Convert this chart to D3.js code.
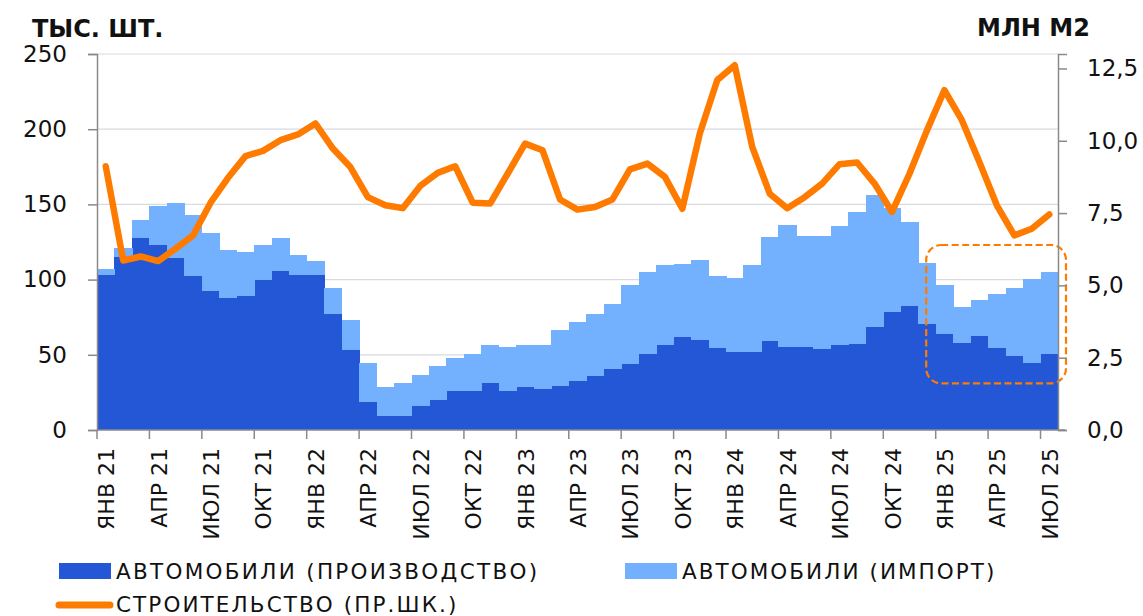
<!DOCTYPE html>
<html>
<head>
<meta charset="utf-8">
<script src="https://cdn.jsdelivr.net/npm/d3@7"></script>
<style>
  html, body { margin: 0; padding: 0; background: #fff; }
  svg { display: block; }
  text { font-family: "DejaVu Sans", sans-serif; fill: #111; }
</style>
</head>
<body>
<svg id="chart" width="1143" height="616"></svg>
<script>
// ---- data ----
const monthNames = ["ЯНВ","ФЕВ","МАР","АПР","МАЙ","ИЮН","ИЮЛ","АВГ","СЕН","ОКТ","НОЯ","ДЕК"];
const years = [21, 22, 23, 24, 25];
const months = [];
years.forEach(y => monthNames.forEach(m => { if (months.length < 55) months.push(m + " " + y); }));

// Cars, production (thousand units)
const production = [103,114.8,127.4,122.8,114.6,102.6,92.6,87.5,89.3,99.5,105.9,102.8,
  103.3,77.1,53.4,18.8,9.5,9.1,16.2,19.7,26.1,25.7,31,25.7,
  28.8,27,29.2,32.3,35.9,40.8,43.6,50.3,56.5,61.6,60,54.3,
  51.6,52,59.4,55.4,55.2,53.6,56.3,57.2,68.2,78.2,82.6,70.2,
  63.6,57.6,62.7,54.3,49,44.7,50.3];
// Cars, import (thousand units)
const imports = [4,6.2,12.2,26.1,36.3,40.6,38.4,31.9,29,23.7,22,13.5,
  9.3,17.3,19.7,25.5,19.3,22.3,20.3,23,21.5,25,25.5,29.2,
  27.5,29.7,37.5,39.7,41.4,43.2,52.8,54.5,53.4,48.5,53,48.3,
  49.2,57.7,69.1,81.1,74,75.1,79.5,87.5,88.2,69.2,55.9,41,
  33,24.4,23.7,36.3,45.2,55.5,55];
// Construction (mln m2)
const construction = [9.12,5.86,6.0,5.84,6.27,6.73,7.86,8.72,9.47,9.65,10.02,10.22,
  10.6,9.73,9.09,8.05,7.77,7.67,8.44,8.89,9.12,7.86,7.83,8.86,
  9.9,9.67,7.97,7.62,7.71,7.97,9.01,9.21,8.75,7.65,10.25,12.1,
  12.61,9.79,8.17,7.67,8.05,8.52,9.19,9.25,8.52,7.54,8.86,10.36,
  11.75,10.71,9.27,7.77,6.73,6.96,7.45];

const leftTicks = [0, 50, 100, 150, 200, 250];
const rightTicks = [0, 2.5, 5, 7.5, 10, 12.5];
const legendLabels = ["АВТОМОБИЛИ (ПРОИЗВОДСТВО)", "АВТОМОБИЛИ (ИМПОРТ)", "СТРОИТЕЛЬСТВО (ПР.ШК.)"];
const titleLeft = "ТЫС. ШТ.";
const titleRight = "МЛН М2";
// highlighted region: month indices and left-axis value range
const highlight = { from: 48, to: 54, low: 31, high: 123 };

// ---- layout ----
const C = { dark: "#2457d6", light: "#73b0fd", orange: "#ff7b00", grid: "#d9d9e2", axis: "#8a8a8a" };
const L = 97, R = 1058, T = 54, B = 430;
const svg = d3.select("#chart");

const x = d3.scaleBand().domain(d3.range(months.length)).range([L, R]).padding(0);
const yL = d3.scaleLinear().domain([0, 250]).range([B, T]);
const yR = d3.scaleLinear().domain([0, 13]).range([B, T]);
const bw = x.bandwidth();

// grid
svg.append("g").selectAll("line").data(leftTicks.filter(d => d > 0)).join("line")
  .attr("x1", L).attr("x2", R).attr("y1", d => yL(d)).attr("y2", d => yL(d))
  .attr("stroke", C.grid).attr("stroke-width", 1.2);

// bars
const bars = svg.append("g").attr("shape-rendering", "crispEdges");
bars.selectAll("rect.p").data(production).join("rect").attr("class", "p")
  .attr("x", (d, i) => x(i)).attr("width", bw + 0.6)
  .attr("y", d => yL(d)).attr("height", d => B - yL(d)).attr("fill", C.dark);
bars.selectAll("rect.i").data(imports).join("rect").attr("class", "i")
  .attr("x", (d, i) => x(i)).attr("width", bw + 0.6)
  .attr("y", (d, i) => yL(production[i] + d)).attr("height", (d, i) => yL(production[i]) - yL(production[i] + d))
  .attr("fill", C.light);

// line
const line = d3.line().x((d, i) => x(i) + bw / 2).y(d => yR(d));
svg.append("path").datum(construction).attr("d", line)
  .attr("fill", "none").attr("stroke", C.orange).attr("stroke-width", 6.5)
  .attr("stroke-linejoin", "round").attr("stroke-linecap", "round");

// highlight box
const hx0 = x(highlight.from) - 9.5, hx1 = x(highlight.to) + bw + 8;
svg.append("rect")
  .attr("x", hx0).attr("y", yL(highlight.high))
  .attr("width", hx1 - hx0).attr("height", yL(highlight.low) - yL(highlight.high))
  .attr("rx", 15).attr("ry", 15)
  .attr("fill", "none").attr("stroke", C.orange).attr("stroke-width", 2.2)
  .attr("stroke-dasharray", "7,3.5");

// left axis
const gL = svg.append("g").attr("transform", `translate(${L},0)`)
  .call(d3.axisLeft(yL).tickValues(leftTicks).tickSize(9).tickPadding(21).tickFormat(d3.format("d")));
gL.select(".domain").attr("stroke", C.axis).attr("stroke-width", 1.5);
gL.selectAll(".tick line").attr("stroke", C.axis).attr("stroke-width", 1.5);
gL.selectAll(".tick text").style("font-size", "23px").attr("fill", "#111");

// right axis
const gR = svg.append("g").attr("transform", `translate(${R},0)`)
  .call(d3.axisRight(yR).tickValues(rightTicks).tickSize(9).tickPadding(20)
    .tickFormat(d => d.toFixed(1).replace(".", ",")));
gR.select(".domain").attr("stroke", C.axis).attr("stroke-width", 1.5);
gR.selectAll(".tick line").attr("stroke", C.axis).attr("stroke-width", 1.5);
gR.selectAll(".tick text").style("font-size", "23px").attr("fill", "#111");

// bottom axis
const gB = svg.append("g");
gB.append("line").attr("x1", L).attr("x2", R + 7).attr("y1", B).attr("y2", B)
  .attr("stroke", C.axis).attr("stroke-width", 1.5);
const tickIdx = d3.range(0, months.length, 3);
gB.selectAll("line.t").data(tickIdx).join("line").attr("class", "t")
  .attr("x1", d => x(d)).attr("x2", d => x(d)).attr("y1", B).attr("y2", B + 9)
  .attr("stroke", C.axis).attr("stroke-width", 1.5);
gB.selectAll("text").data(tickIdx).join("text")
  .attr("transform", d => `translate(${x(d) + bw / 2 + 8.5},448) rotate(-90)`)
  .attr("text-anchor", "end").style("font-size", "22px")
  .text(d => months[d]);

// titles
svg.append("text").attr("x", 32).attr("y", 37).style("font-size", "24px").style("font-weight", "bold").text(titleLeft);
svg.append("text").attr("x", 977).attr("y", 36).style("font-size", "24px").style("font-weight", "bold").text(titleRight);

// legend
const lg = svg.append("g");
lg.append("rect").attr("x", 59).attr("y", 563).attr("width", 52).attr("height", 16).attr("fill", C.dark);
lg.append("text").attr("x", 116).attr("y", 579).style("font-size", "21.5px").style("letter-spacing", "2.3px").text(legendLabels[0]);
lg.append("rect").attr("x", 625).attr("y", 563).attr("width", 52).attr("height", 16).attr("fill", C.light);
lg.append("text").attr("x", 682).attr("y", 579).style("font-size", "21.5px").style("letter-spacing", "2.05px").text(legendLabels[1]);
lg.append("line").attr("x1", 59).attr("x2", 110).attr("y1", 605).attr("y2", 605)
  .attr("stroke", C.orange).attr("stroke-width", 7).attr("stroke-linecap", "round");
lg.append("text").attr("x", 116).attr("y", 611.5).style("font-size", "21.5px").style("letter-spacing", "2.1px").text(legendLabels[2]);
</script>
</body>
</html>
